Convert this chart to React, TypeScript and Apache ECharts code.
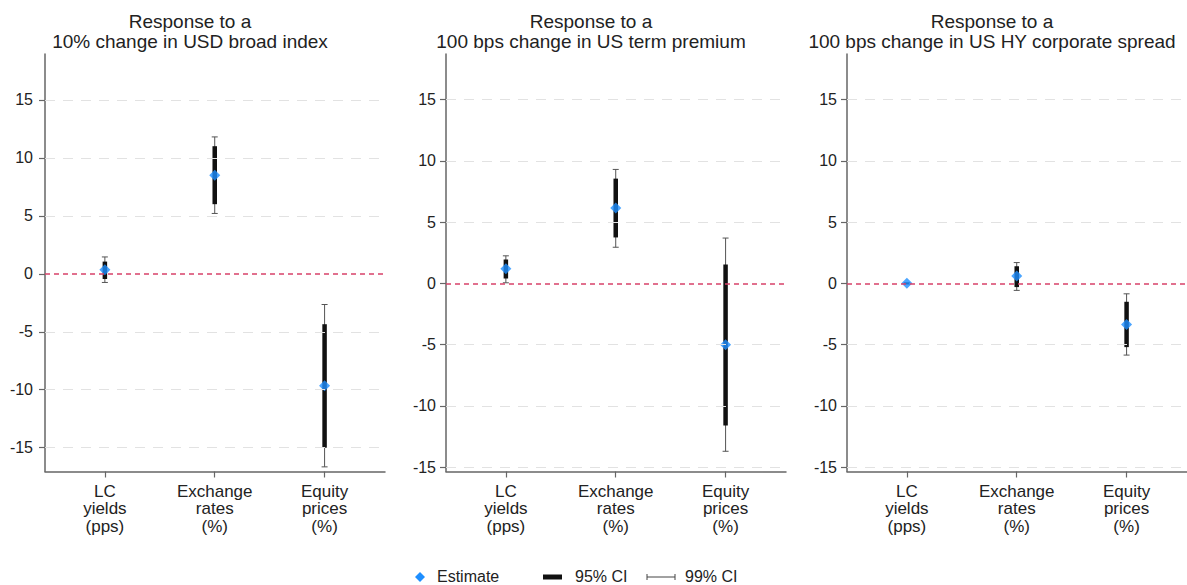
import React, { useEffect, useRef } from "react";
import * as echarts from "echarts";

const categories = ["LC\nyields\n(pps)", "Exchange\nrates\n(%)", "Equity\nprices\n(%)"];
const panelTitles = [
  "Response to a\n10% change in USD broad index",
  "Response to a\n100 bps change in US term premium",
  "Response to a\n100 bps change in US HY corporate spread",
];
const yTicks = [-15, -10, -5, 0, 5, 10, 15];
const gridYValues = [-15, -10, -5, 5, 10, 15];
const yMin = [-17.05, -15.35, -15.35];
const yMax = [18.95, 18.72, 18.72];

const estimates = [
  [0.35, 8.5, -9.65],
  [1.2, 6.15, -5.0],
  [0.02, 0.6, -3.35],
];
const ci95Low = [
  [-0.45, 6.0, -15.0],
  [0.4, 3.75, -11.6],
  [-0.04, -0.3, -5.2],
];
const ci95High = [
  [1.05, 11.0, -4.35],
  [1.95, 8.55, 1.55],
  [0.04, 1.4, -1.5],
];
const ci99Low = [
  [-0.75, 5.2, -16.65],
  [0.05, 2.95, -13.7],
  [-0.06, -0.57, -5.85],
];
const ci99High = [
  [1.45, 11.8, -2.65],
  [2.25, 9.3, 3.7],
  [0.06, 1.7, -0.85],
];

const FONT = "'Liberation Sans', Arial, sans-serif";
const TEXT = "#222";
const AXIS = "#666";
const BLUE = "#1e8fff";

const gridLefts = [45, 446, 847];
const titleCenters = [190, 591, 992];

export default function App() {
  const ref = useRef<HTMLDivElement>(null);
  useEffect(() => {
    if (!ref.current) return;
    const chart = echarts.init(ref.current, undefined, { renderer: "svg" });

    const grids: any[] = [];
    const xAxes: any[] = [];
    const yAxes: any[] = [];
    const series: any[] = [];
    const titles: any[] = [];

    for (let p = 0; p < 3; p++) {
      grids.push({ left: gridLefts[p], top: 54, width: 340, height: 417.5 });
      titles.push({
        text: panelTitles[p],
        left: titleCenters[p],
        textAlign: "center",
        top: 11,
        padding: 0,
        textStyle: { fontFamily: FONT, fontSize: 19, fontWeight: "normal", color: TEXT, lineHeight: 20 },
      });
      xAxes.push({
        type: "value",
        gridIndex: p,
        min: 0.455,
        max: 3.55,
        axisLine: { show: true, onZero: false, lineStyle: { color: AXIS, width: 1.5 } },
        axisTick: { show: true, length: 6, customValues: [1, 2, 3], lineStyle: { color: AXIS, width: 1.2 } },
        axisLabel: {
          customValues: [1, 2, 3],
          formatter: (v: number) => categories[Math.round(v) - 1] ?? "",
          fontFamily: FONT,
          fontSize: 17,
          color: TEXT,
          lineHeight: 17.5,
          margin: 11,
        },
        splitLine: { show: false },
      });
      yAxes.push({
        type: "value",
        gridIndex: p,
        min: yMin[p],
        max: yMax[p],
        axisLine: { show: true, onZero: false, lineStyle: { color: AXIS, width: 1.5 } },
        axisTick: { show: true, length: 6, customValues: yTicks, lineStyle: { color: AXIS, width: 1.2 } },
        axisLabel: {
          customValues: yTicks,
          fontFamily: FONT,
          fontSize: 16,
          color: TEXT,
          margin: p === 0 ? 12 : 10,
        },
        splitLine: { show: false },
      });

      // reference lines
      series.push({
        type: "line",
        xAxisIndex: p,
        yAxisIndex: p,
        data: [],
        z: 1,
        silent: true,
        markLine: {
          silent: true,
          symbol: "none",
          label: { show: false },
          data: [
            ...gridYValues.map((v) => ({
              yAxis: v,
              lineStyle: { color: "#e2e2e2", width: 1, type: [10, 8] },
            })),
            { yAxis: 0, lineStyle: { color: "#d8426a", width: 1.5, type: [5, 4] } },
          ],
        },
      });

      const ciData = categories.map((_, i) => [
        i + 1,
        ci99Low[p][i],
        ci99High[p][i],
        ci95Low[p][i],
        ci95High[p][i],
      ]);
      series.push({
        type: "custom",
        name: "CI",
        xAxisIndex: p,
        yAxisIndex: p,
        z: 2,
        data: ciData,
        encode: { x: 0, y: [1, 2, 3, 4] },
        renderItem: (params: any, api: any) => {
          const x = api.value(0);
          const a99 = api.coord([x, api.value(1)]);
          const b99 = api.coord([x, api.value(2)]);
          const a95 = api.coord([x, api.value(3)]);
          const b95 = api.coord([x, api.value(4)]);
          const cap = 3;
          const thin = { stroke: "#555", lineWidth: 1 };
          return {
            type: "group",
            children: [
              { type: "line", shape: { x1: a99[0], y1: a99[1], x2: b99[0], y2: b99[1] }, style: thin },
              { type: "line", shape: { x1: a99[0] - cap, y1: a99[1], x2: a99[0] + cap, y2: a99[1] }, style: thin },
              { type: "line", shape: { x1: b99[0] - cap, y1: b99[1], x2: b99[0] + cap, y2: b99[1] }, style: thin },
              {
                type: "line",
                shape: { x1: a95[0], y1: a95[1], x2: b95[0], y2: b95[1] },
                style: { stroke: "#111", lineWidth: 4.5 },
              },
            ],
          };
        },
      });

      series.push({
        type: "scatter",
        name: "Estimate",
        xAxisIndex: p,
        yAxisIndex: p,
        z: 3,
        symbol: "diamond",
        symbolSize: [11, 11],
        itemStyle: { color: BLUE },
        data: categories.map((_, i) => [i + 1, estimates[p][i]]),
      });
    }

    const ly = 577;
    const graphic: any[] = [
      {
        type: "polygon",
        shape: { points: [[420, ly - 5], [425, ly], [420, ly + 5], [415, ly]] },
        style: { fill: BLUE },
      },
      { type: "text", left: 437, top: ly - 9, style: { text: "Estimate", font: `16px ${FONT}`, fill: TEXT } },
      { type: "rect", shape: { x: 543, y: ly - 2.5, width: 19, height: 5 }, style: { fill: "#111" } },
      { type: "text", left: 575, top: ly - 9, style: { text: "95% CI", font: `16px ${FONT}`, fill: TEXT } },
      { type: "line", shape: { x1: 647, y1: ly, x2: 675, y2: ly }, style: { stroke: "#444", lineWidth: 1 } },
      { type: "line", shape: { x1: 647, y1: ly - 3, x2: 647, y2: ly + 3 }, style: { stroke: "#444", lineWidth: 1 } },
      { type: "line", shape: { x1: 675, y1: ly - 3, x2: 675, y2: ly + 3 }, style: { stroke: "#444", lineWidth: 1 } },
      { type: "text", left: 685, top: ly - 9, style: { text: "99% CI", font: `16px ${FONT}`, fill: TEXT } },
    ];

    chart.setOption({
      animation: false,
      backgroundColor: "#ffffff",
      textStyle: { fontFamily: FONT },
      title: titles,
      grid: grids,
      xAxis: xAxes,
      yAxis: yAxes,
      series,
      graphic,
    });
    return () => chart.dispose();
  }, []);

  return (
    <div
      ref={ref}
      style={{ position: "fixed", left: 0, top: 0, width: 1187, height: 585, background: "#fff" }}
    />
  );
}
